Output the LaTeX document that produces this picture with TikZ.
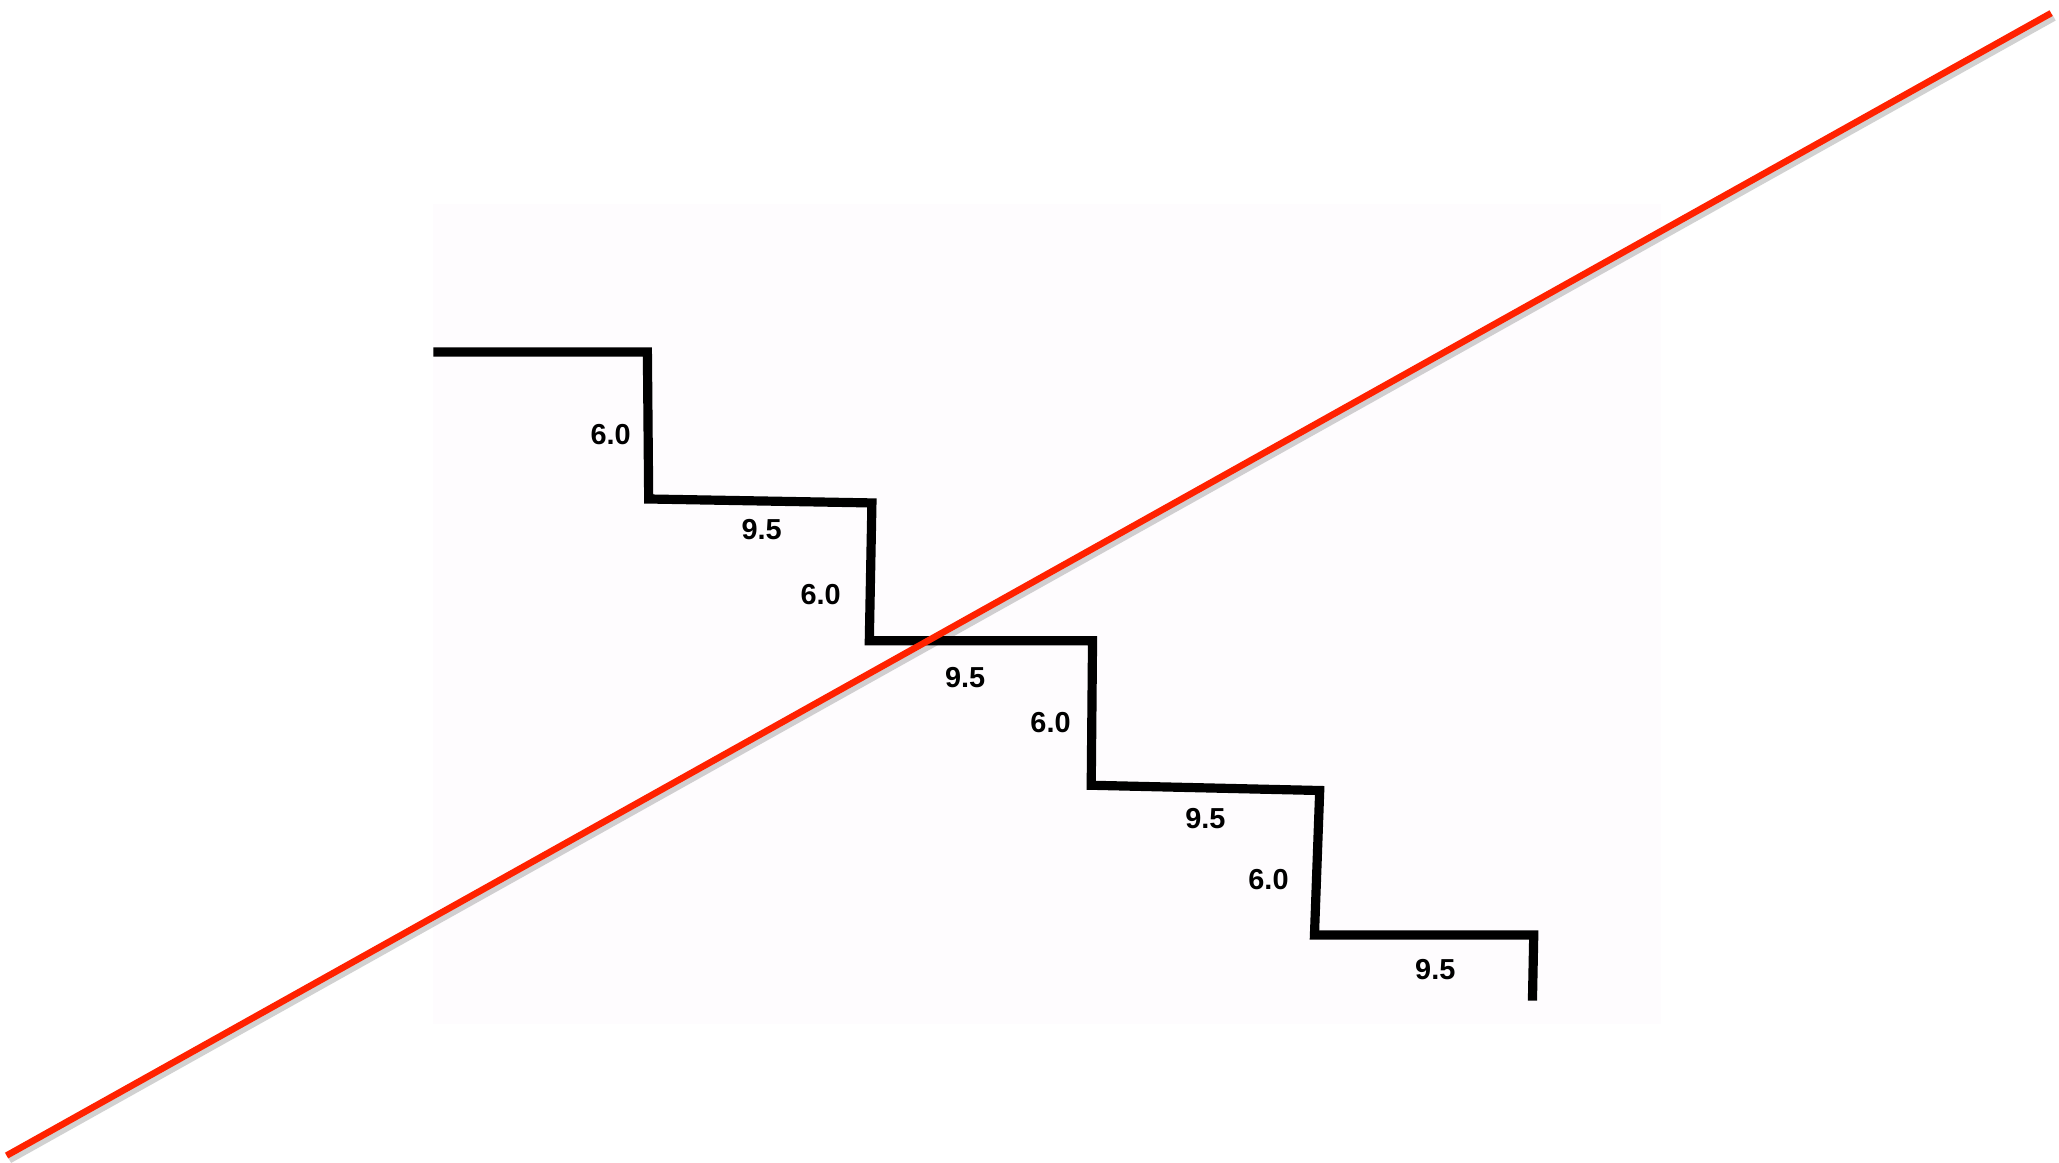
\documentclass[tikz,border=0pt]{standalone}
\usepackage{fontspec}
\setmainfont{Liberation Sans}
\definecolor{paper}{RGB}{254,252,254}
\definecolor{redc}{RGB}{255,34,0}
\begin{document}
\begin{tikzpicture}[x=1pt,y=-1pt,
  stair/.style={line width=7pt,line join=miter,black},
  redline/.style={line width=5pt,draw=redc},
  shadowline/.style={line width=6pt,draw=black,opacity=0.18},
  dim/.style={font=\fontsize{22}{24}\selectfont\bfseries,inner sep=0pt}]
\useasboundingbox (0,0) rectangle (1568,885);
\fill[white] (0,0) rectangle (1568,885);
\fill[paper] (330,155) rectangle (1265,780);
% staircase
\draw[stair] (330,268) -- (493,268) -- (494,380) -- (664,383) -- (662,488)
  -- (832,488) -- (831,598) -- (1005,602) -- (1001,712) -- (1168,712) -- (1167,762);
% labels
\node[dim] (a1) at (465,331) {6.0};
\node[dim] (b1) at (580,403) {9.5};
\node[dim] (a2) at (625,453) {6.0};
\node[dim] (b2) at (735,516) {9.5};
\node[dim] (a3) at (800,550) {6.0};
\node[dim] (b3) at (918,623) {9.5};
\node[dim] (a4) at (966,670) {6.0};
\node[dim] (b4) at (1093,738) {9.5};
% red line with shadow
\coordinate (r1) at (5,880);
\coordinate (r2) at (1562,10);
\draw[shadowline] ([shift={(2,3)}]r1) -- ([shift={(2,3)}]r2);
\draw[redline] (r1) -- (r2);
\end{tikzpicture}
\end{document}
